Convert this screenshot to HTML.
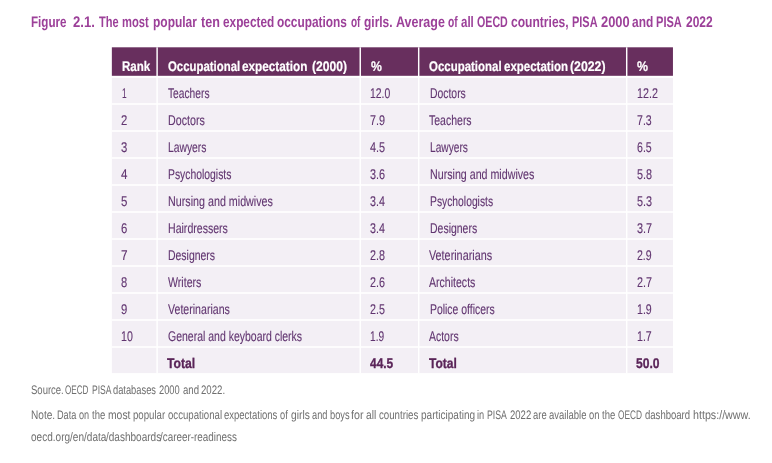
<!DOCTYPE html>
<html lang="en"><head><meta charset="utf-8"><title>Figure 2.1</title>
<style>html,body{margin:0;padding:0;background:#fff}body{width:772px;height:463px;position:relative;overflow:hidden;font-family:'Liberation Sans', sans-serif}.t{position:absolute;white-space:pre;transform-origin:0 0;display:block;text-rendering:geometricPrecision}svg{position:absolute;left:0;top:0}.g{margin:0;padding:0;font:inherit;position:static}</style></head><body>
<svg width="772" height="463" viewBox="0 0 772 463">
<rect x="111.85" y="47.3" width="561.10" height="28.50" fill="#682f5e"/>
<rect x="111.85" y="77.85" width="561.10" height="295.25" fill="#f3eff5"/>
<rect x="111.85" y="103.20" width="561.10" height="1.6" fill="#fff"/>
<rect x="111.85" y="130.20" width="561.10" height="1.6" fill="#fff"/>
<rect x="111.85" y="157.20" width="561.10" height="1.6" fill="#fff"/>
<rect x="111.85" y="184.20" width="561.10" height="1.6" fill="#fff"/>
<rect x="111.85" y="211.20" width="561.10" height="1.6" fill="#fff"/>
<rect x="111.85" y="238.20" width="561.10" height="1.6" fill="#fff"/>
<rect x="111.85" y="265.20" width="561.10" height="1.6" fill="#fff"/>
<rect x="111.85" y="292.20" width="561.10" height="1.6" fill="#fff"/>
<rect x="111.85" y="319.20" width="561.10" height="1.6" fill="#fff"/>
<rect x="111.85" y="346.20" width="561.10" height="1.6" fill="#fff"/>
<rect x="156.38" y="47.3" width="1.45" height="325.80" fill="#fff"/>
<rect x="359.52" y="47.3" width="1.45" height="325.80" fill="#fff"/>
<rect x="417.97" y="47.3" width="1.45" height="325.80" fill="#fff"/>
<rect x="625.98" y="47.3" width="1.45" height="325.80" fill="#fff"/>
</svg>
<h1 class="g">
<span class="t" style="left:31.23px;top:14.90px;font:bold 15.3px/15.3px 'Liberation Sans', sans-serif;color:#9c4099;transform:scaleX(0.7609);">Figure</span>
<span class="t" style="left:72.83px;top:14.90px;font:bold 15.3px/15.3px 'Liberation Sans', sans-serif;color:#9c4099;transform:scaleX(0.8554);">2.1.</span>
<span class="t" style="left:98.63px;top:14.90px;font:bold 15.3px/15.3px 'Liberation Sans', sans-serif;color:#9c4099;transform:scaleX(0.7219);">The</span>
<span class="t" style="left:122.19px;top:14.90px;font:bold 15.3px/15.3px 'Liberation Sans', sans-serif;color:#9c4099;transform:scaleX(0.7306);">most</span>
<span class="t" style="left:152.50px;top:14.90px;font:bold 15.3px/15.3px 'Liberation Sans', sans-serif;color:#9c4099;transform:scaleX(0.7826);">popular</span>
<span class="t" style="left:200.76px;top:14.90px;font:bold 15.3px/15.3px 'Liberation Sans', sans-serif;color:#9c4099;transform:scaleX(0.8231);">ten</span>
<span class="t" style="left:222.80px;top:14.90px;font:bold 15.3px/15.3px 'Liberation Sans', sans-serif;color:#9c4099;transform:scaleX(0.7723);">expected</span>
<span class="t" style="left:277.38px;top:14.90px;font:bold 15.3px/15.3px 'Liberation Sans', sans-serif;color:#9c4099;transform:scaleX(0.7761);">occupations</span>
<span class="t" style="left:351.25px;top:14.90px;font:bold 15.3px/15.3px 'Liberation Sans', sans-serif;color:#9c4099;transform:scaleX(0.6533);">of</span>
<span class="t" style="left:364.07px;top:14.90px;font:bold 15.3px/15.3px 'Liberation Sans', sans-serif;color:#9c4099;transform:scaleX(0.7824);">girls.</span>
<span class="t" style="left:395.70px;top:14.90px;font:bold 15.3px/15.3px 'Liberation Sans', sans-serif;color:#9c4099;transform:scaleX(0.8168);">Average</span>
<span class="t" style="left:447.85px;top:14.90px;font:bold 15.3px/15.3px 'Liberation Sans', sans-serif;color:#9c4099;transform:scaleX(0.6688);">of</span>
<span class="t" style="left:460.52px;top:14.90px;font:bold 15.3px/15.3px 'Liberation Sans', sans-serif;color:#9c4099;transform:scaleX(0.7533);">all</span>
<span class="t" style="left:476.66px;top:14.90px;font:bold 15.3px/15.3px 'Liberation Sans', sans-serif;color:#9c4099;transform:scaleX(0.6964);">OECD</span>
<span class="t" style="left:511.35px;top:14.90px;font:bold 15.3px/15.3px 'Liberation Sans', sans-serif;color:#9c4099;transform:scaleX(0.7888);">countries,</span>
<span class="t" style="left:572.13px;top:14.90px;font:bold 15.3px/15.3px 'Liberation Sans', sans-serif;color:#9c4099;transform:scaleX(0.7153);">PISA</span>
<span class="t" style="left:600.52px;top:14.90px;font:bold 15.3px/15.3px 'Liberation Sans', sans-serif;color:#9c4099;transform:scaleX(0.8420);">2000</span>
<span class="t" style="left:632.07px;top:14.90px;font:bold 15.3px/15.3px 'Liberation Sans', sans-serif;color:#9c4099;transform:scaleX(0.7790);">and</span>
<span class="t" style="left:656.48px;top:14.90px;font:bold 15.3px/15.3px 'Liberation Sans', sans-serif;color:#9c4099;transform:scaleX(0.7231);">PISA</span>
<span class="t" style="left:686.04px;top:14.90px;font:bold 15.3px/15.3px 'Liberation Sans', sans-serif;color:#9c4099;transform:scaleX(0.7841);">2022</span>
</h1>
<div class="g">
<span class="t" style="left:121.76px;top:59.80px;font:bold 13.9px/13.9px 'Liberation Sans', sans-serif;color:#ffffff;transform:scaleX(0.8307);-webkit-text-stroke:0.2px currentColor;">Rank</span>
<span class="t" style="left:167.57px;top:59.80px;font:bold 13.9px/13.9px 'Liberation Sans', sans-serif;color:#ffffff;transform:scaleX(0.8198);-webkit-text-stroke:0.2px currentColor;">Occupational</span>
<span class="t" style="left:241.98px;top:59.80px;font:bold 13.9px/13.9px 'Liberation Sans', sans-serif;color:#ffffff;transform:scaleX(0.8469);-webkit-text-stroke:0.2px currentColor;">expectation</span>
<span class="t" style="left:311.89px;top:59.80px;font:bold 13.9px/13.9px 'Liberation Sans', sans-serif;color:#ffffff;transform:scaleX(0.8725);-webkit-text-stroke:0.2px currentColor;">(2000)</span>
<span class="t" style="left:370.62px;top:59.80px;font:bold 13.9px/13.9px 'Liberation Sans', sans-serif;color:#ffffff;transform:scaleX(0.8814);-webkit-text-stroke:0.2px currentColor;">%</span>
<span class="t" style="left:428.97px;top:59.80px;font:bold 13.9px/13.9px 'Liberation Sans', sans-serif;color:#ffffff;transform:scaleX(0.8252);-webkit-text-stroke:0.2px currentColor;">Occupational</span>
<span class="t" style="left:503.69px;top:59.80px;font:bold 13.9px/13.9px 'Liberation Sans', sans-serif;color:#ffffff;transform:scaleX(0.8283);-webkit-text-stroke:0.2px currentColor;">expectation</span>
<span class="t" style="left:570.18px;top:59.80px;font:bold 13.9px/13.9px 'Liberation Sans', sans-serif;color:#ffffff;transform:scaleX(0.8854);-webkit-text-stroke:0.2px currentColor;">(2022)</span>
<span class="t" style="left:637.12px;top:59.80px;font:bold 13.9px/13.9px 'Liberation Sans', sans-serif;color:#ffffff;transform:scaleX(0.8917);-webkit-text-stroke:0.2px currentColor;">%</span>
<span class="t" style="left:122.21px;top:85.70px;font:normal 14.1px/14.1px 'Liberation Sans', sans-serif;color:#613570;transform:scaleX(0.5924);-webkit-text-stroke:0.12px currentColor;">1</span>
<span class="t" style="left:168.19px;top:85.70px;font:normal 14.1px/14.1px 'Liberation Sans', sans-serif;color:#613570;transform:scaleX(0.7258);-webkit-text-stroke:0.12px currentColor;">Teachers</span>
<span class="t" style="left:370.48px;top:85.70px;font:normal 14.1px/14.1px 'Liberation Sans', sans-serif;color:#613570;transform:scaleX(0.7398);-webkit-text-stroke:0.12px currentColor;">12.0</span>
<span class="t" style="left:429.62px;top:85.70px;font:normal 14.1px/14.1px 'Liberation Sans', sans-serif;color:#613570;transform:scaleX(0.7373);-webkit-text-stroke:0.12px currentColor;">Doctors</span>
<span class="t" style="left:636.96px;top:85.70px;font:normal 14.1px/14.1px 'Liberation Sans', sans-serif;color:#613570;transform:scaleX(0.7628);-webkit-text-stroke:0.12px currentColor;">12.2</span>
<span class="t" style="left:121.38px;top:112.70px;font:normal 14.1px/14.1px 'Liberation Sans', sans-serif;color:#613570;transform:scaleX(0.8016);-webkit-text-stroke:0.12px currentColor;">2</span>
<span class="t" style="left:167.60px;top:112.70px;font:normal 14.1px/14.1px 'Liberation Sans', sans-serif;color:#613570;transform:scaleX(0.7581);-webkit-text-stroke:0.12px currentColor;">Doctors</span>
<span class="t" style="left:370.18px;top:112.70px;font:normal 14.1px/14.1px 'Liberation Sans', sans-serif;color:#613570;transform:scaleX(0.7689);-webkit-text-stroke:0.12px currentColor;">7.9</span>
<span class="t" style="left:428.59px;top:112.70px;font:normal 14.1px/14.1px 'Liberation Sans', sans-serif;color:#613570;transform:scaleX(0.7454);-webkit-text-stroke:0.12px currentColor;">Teachers</span>
<span class="t" style="left:636.68px;top:112.70px;font:normal 14.1px/14.1px 'Liberation Sans', sans-serif;color:#613570;transform:scaleX(0.7505);-webkit-text-stroke:0.12px currentColor;">7.3</span>
<span class="t" style="left:121.34px;top:139.70px;font:normal 14.1px/14.1px 'Liberation Sans', sans-serif;color:#613570;transform:scaleX(0.8040);-webkit-text-stroke:0.12px currentColor;">3</span>
<span class="t" style="left:167.63px;top:139.70px;font:normal 14.1px/14.1px 'Liberation Sans', sans-serif;color:#613570;transform:scaleX(0.7330);-webkit-text-stroke:0.12px currentColor;">Lawyers</span>
<span class="t" style="left:370.46px;top:139.70px;font:normal 14.1px/14.1px 'Liberation Sans', sans-serif;color:#613570;transform:scaleX(0.7733);-webkit-text-stroke:0.12px currentColor;">4.5</span>
<span class="t" style="left:429.65px;top:139.70px;font:normal 14.1px/14.1px 'Liberation Sans', sans-serif;color:#613570;transform:scaleX(0.7227);-webkit-text-stroke:0.12px currentColor;">Lawyers</span>
<span class="t" style="left:636.78px;top:139.70px;font:normal 14.1px/14.1px 'Liberation Sans', sans-serif;color:#613570;transform:scaleX(0.7516);-webkit-text-stroke:0.12px currentColor;">6.5</span>
<span class="t" style="left:121.14px;top:166.70px;font:normal 14.1px/14.1px 'Liberation Sans', sans-serif;color:#613570;transform:scaleX(0.8218);-webkit-text-stroke:0.12px currentColor;">4</span>
<span class="t" style="left:167.63px;top:166.70px;font:normal 14.1px/14.1px 'Liberation Sans', sans-serif;color:#613570;transform:scaleX(0.7362);-webkit-text-stroke:0.12px currentColor;">Psychologists</span>
<span class="t" style="left:370.25px;top:166.70px;font:normal 14.1px/14.1px 'Liberation Sans', sans-serif;color:#613570;transform:scaleX(0.7696);-webkit-text-stroke:0.12px currentColor;">3.6</span>
<span class="t" style="left:429.60px;top:166.70px;font:normal 14.1px/14.1px 'Liberation Sans', sans-serif;color:#613570;transform:scaleX(0.7569);-webkit-text-stroke:0.12px currentColor;">Nursing and midwives</span>
<span class="t" style="left:636.69px;top:166.70px;font:normal 14.1px/14.1px 'Liberation Sans', sans-serif;color:#613570;transform:scaleX(0.7690);-webkit-text-stroke:0.12px currentColor;">5.8</span>
<span class="t" style="left:121.26px;top:193.70px;font:normal 14.1px/14.1px 'Liberation Sans', sans-serif;color:#613570;transform:scaleX(0.8163);-webkit-text-stroke:0.12px currentColor;">5</span>
<span class="t" style="left:167.60px;top:193.70px;font:normal 14.1px/14.1px 'Liberation Sans', sans-serif;color:#613570;transform:scaleX(0.7612);-webkit-text-stroke:0.12px currentColor;">Nursing and midwives</span>
<span class="t" style="left:370.26px;top:193.70px;font:normal 14.1px/14.1px 'Liberation Sans', sans-serif;color:#613570;transform:scaleX(0.7610);-webkit-text-stroke:0.12px currentColor;">3.4</span>
<span class="t" style="left:429.63px;top:193.70px;font:normal 14.1px/14.1px 'Liberation Sans', sans-serif;color:#613570;transform:scaleX(0.7323);-webkit-text-stroke:0.12px currentColor;">Psychologists</span>
<span class="t" style="left:636.69px;top:193.70px;font:normal 14.1px/14.1px 'Liberation Sans', sans-serif;color:#613570;transform:scaleX(0.7688);-webkit-text-stroke:0.12px currentColor;">5.3</span>
<span class="t" style="left:121.35px;top:220.70px;font:normal 14.1px/14.1px 'Liberation Sans', sans-serif;color:#613570;transform:scaleX(0.8039);-webkit-text-stroke:0.12px currentColor;">6</span>
<span class="t" style="left:167.61px;top:220.70px;font:normal 14.1px/14.1px 'Liberation Sans', sans-serif;color:#613570;transform:scaleX(0.7498);-webkit-text-stroke:0.12px currentColor;">Hairdressers</span>
<span class="t" style="left:370.26px;top:220.70px;font:normal 14.1px/14.1px 'Liberation Sans', sans-serif;color:#613570;transform:scaleX(0.7610);-webkit-text-stroke:0.12px currentColor;">3.4</span>
<span class="t" style="left:429.62px;top:220.70px;font:normal 14.1px/14.1px 'Liberation Sans', sans-serif;color:#613570;transform:scaleX(0.7432);-webkit-text-stroke:0.12px currentColor;">Designers</span>
<span class="t" style="left:636.75px;top:220.70px;font:normal 14.1px/14.1px 'Liberation Sans', sans-serif;color:#613570;transform:scaleX(0.7723);-webkit-text-stroke:0.12px currentColor;">3.7</span>
<span class="t" style="left:121.25px;top:247.70px;font:normal 14.1px/14.1px 'Liberation Sans', sans-serif;color:#613570;transform:scaleX(0.8432);-webkit-text-stroke:0.12px currentColor;">7</span>
<span class="t" style="left:167.62px;top:247.70px;font:normal 14.1px/14.1px 'Liberation Sans', sans-serif;color:#613570;transform:scaleX(0.7419);-webkit-text-stroke:0.12px currentColor;">Designers</span>
<span class="t" style="left:370.30px;top:247.70px;font:normal 14.1px/14.1px 'Liberation Sans', sans-serif;color:#613570;transform:scaleX(0.7644);-webkit-text-stroke:0.12px currentColor;">2.8</span>
<span class="t" style="left:428.65px;top:247.70px;font:normal 14.1px/14.1px 'Liberation Sans', sans-serif;color:#613570;transform:scaleX(0.7665);-webkit-text-stroke:0.12px currentColor;">Veterinarians</span>
<span class="t" style="left:636.81px;top:247.70px;font:normal 14.1px/14.1px 'Liberation Sans', sans-serif;color:#613570;transform:scaleX(0.7490);-webkit-text-stroke:0.12px currentColor;">2.9</span>
<span class="t" style="left:121.41px;top:274.70px;font:normal 14.1px/14.1px 'Liberation Sans', sans-serif;color:#613570;transform:scaleX(0.7932);-webkit-text-stroke:0.12px currentColor;">8</span>
<span class="t" style="left:168.29px;top:274.70px;font:normal 14.1px/14.1px 'Liberation Sans', sans-serif;color:#613570;transform:scaleX(0.7529);-webkit-text-stroke:0.12px currentColor;">Writers</span>
<span class="t" style="left:370.30px;top:274.70px;font:normal 14.1px/14.1px 'Liberation Sans', sans-serif;color:#613570;transform:scaleX(0.7646);-webkit-text-stroke:0.12px currentColor;">2.6</span>
<span class="t" style="left:428.83px;top:274.70px;font:normal 14.1px/14.1px 'Liberation Sans', sans-serif;color:#613570;transform:scaleX(0.7490);-webkit-text-stroke:0.12px currentColor;">Architects</span>
<span class="t" style="left:636.80px;top:274.70px;font:normal 14.1px/14.1px 'Liberation Sans', sans-serif;color:#613570;transform:scaleX(0.7661);-webkit-text-stroke:0.12px currentColor;">2.7</span>
<span class="t" style="left:121.39px;top:301.70px;font:normal 14.1px/14.1px 'Liberation Sans', sans-serif;color:#613570;transform:scaleX(0.8014);-webkit-text-stroke:0.12px currentColor;">9</span>
<span class="t" style="left:168.25px;top:301.70px;font:normal 14.1px/14.1px 'Liberation Sans', sans-serif;color:#613570;transform:scaleX(0.7524);-webkit-text-stroke:0.12px currentColor;">Veterinarians</span>
<span class="t" style="left:370.29px;top:301.70px;font:normal 14.1px/14.1px 'Liberation Sans', sans-serif;color:#613570;transform:scaleX(0.7621);-webkit-text-stroke:0.12px currentColor;">2.5</span>
<span class="t" style="left:429.62px;top:301.70px;font:normal 14.1px/14.1px 'Liberation Sans', sans-serif;color:#613570;transform:scaleX(0.7391);-webkit-text-stroke:0.12px currentColor;">Police officers</span>
<span class="t" style="left:636.97px;top:301.70px;font:normal 14.1px/14.1px 'Liberation Sans', sans-serif;color:#613570;transform:scaleX(0.7534);-webkit-text-stroke:0.12px currentColor;">1.9</span>
<span class="t" style="left:121.47px;top:328.70px;font:normal 14.1px/14.1px 'Liberation Sans', sans-serif;color:#613570;transform:scaleX(0.7525);-webkit-text-stroke:0.12px currentColor;">10</span>
<span class="t" style="left:167.89px;top:328.70px;font:normal 14.1px/14.1px 'Liberation Sans', sans-serif;color:#613570;transform:scaleX(0.7442);-webkit-text-stroke:0.12px currentColor;">General and keyboard clerks</span>
<span class="t" style="left:370.49px;top:328.70px;font:normal 14.1px/14.1px 'Liberation Sans', sans-serif;color:#613570;transform:scaleX(0.7192);-webkit-text-stroke:0.12px currentColor;">1.9</span>
<span class="t" style="left:428.84px;top:328.70px;font:normal 14.1px/14.1px 'Liberation Sans', sans-serif;color:#613570;transform:scaleX(0.7413);-webkit-text-stroke:0.12px currentColor;">Actors</span>
<span class="t" style="left:636.97px;top:328.70px;font:normal 14.1px/14.1px 'Liberation Sans', sans-serif;color:#613570;transform:scaleX(0.7525);-webkit-text-stroke:0.12px currentColor;">1.7</span>
<span class="t" style="left:167.41px;top:355.70px;font:bold 14.1px/14.1px 'Liberation Sans', sans-serif;color:#5a2458;transform:scaleX(0.8644);-webkit-text-stroke:0.3px currentColor;">Total</span>
<span class="t" style="left:370.15px;top:355.70px;font:bold 14.1px/14.1px 'Liberation Sans', sans-serif;color:#5a2458;transform:scaleX(0.8455);-webkit-text-stroke:0.3px currentColor;">44.5</span>
<span class="t" style="left:428.81px;top:355.70px;font:bold 14.1px/14.1px 'Liberation Sans', sans-serif;color:#5a2458;transform:scaleX(0.8557);-webkit-text-stroke:0.3px currentColor;">Total</span>
<span class="t" style="left:636.45px;top:355.70px;font:bold 14.1px/14.1px 'Liberation Sans', sans-serif;color:#5a2458;transform:scaleX(0.8578);-webkit-text-stroke:0.3px currentColor;">50.0</span>
</div>
<p class="g">
<span class="t" style="left:30.71px;top:384.00px;font:normal 12.4px/12.4px 'Liberation Sans', sans-serif;color:#6f6f6f;transform:scaleX(0.7671);">Source.</span>
<span class="t" style="left:65.46px;top:384.00px;font:normal 12.4px/12.4px 'Liberation Sans', sans-serif;color:#6f6f6f;transform:scaleX(0.6558);">OECD</span>
<span class="t" style="left:91.60px;top:384.00px;font:normal 12.4px/12.4px 'Liberation Sans', sans-serif;color:#6f6f6f;transform:scaleX(0.6914);">PISA</span>
<span class="t" style="left:113.48px;top:384.00px;font:normal 12.4px/12.4px 'Liberation Sans', sans-serif;color:#6f6f6f;transform:scaleX(0.7514);">databases</span>
<span class="t" style="left:159.21px;top:384.00px;font:normal 12.4px/12.4px 'Liberation Sans', sans-serif;color:#6f6f6f;transform:scaleX(0.7524);">2000</span>
<span class="t" style="left:182.74px;top:384.00px;font:normal 12.4px/12.4px 'Liberation Sans', sans-serif;color:#6f6f6f;transform:scaleX(0.7755);">and</span>
<span class="t" style="left:201.09px;top:384.00px;font:normal 12.4px/12.4px 'Liberation Sans', sans-serif;color:#6f6f6f;transform:scaleX(0.7774);">2022.</span>
<span class="t" style="left:30.68px;top:408.50px;font:normal 12.4px/12.4px 'Liberation Sans', sans-serif;color:#6f6f6f;transform:scaleX(0.8134);">Note.</span>
<span class="t" style="left:56.75px;top:408.50px;font:normal 12.4px/12.4px 'Liberation Sans', sans-serif;color:#6f6f6f;transform:scaleX(0.7373);">Data</span>
<span class="t" style="left:79.05px;top:408.50px;font:normal 12.4px/12.4px 'Liberation Sans', sans-serif;color:#6f6f6f;transform:scaleX(0.7366);">on</span>
<span class="t" style="left:91.82px;top:408.50px;font:normal 12.4px/12.4px 'Liberation Sans', sans-serif;color:#6f6f6f;transform:scaleX(0.7652);">the</span>
<span class="t" style="left:107.63px;top:408.50px;font:normal 12.4px/12.4px 'Liberation Sans', sans-serif;color:#6f6f6f;transform:scaleX(0.8354);">most</span>
<span class="t" style="left:132.95px;top:408.50px;font:normal 12.4px/12.4px 'Liberation Sans', sans-serif;color:#6f6f6f;transform:scaleX(0.7792);">popular</span>
<span class="t" style="left:167.69px;top:408.50px;font:normal 12.4px/12.4px 'Liberation Sans', sans-serif;color:#6f6f6f;transform:scaleX(0.7763);">occupational</span>
<span class="t" style="left:224.18px;top:408.50px;font:normal 12.4px/12.4px 'Liberation Sans', sans-serif;color:#6f6f6f;transform:scaleX(0.7671);">expectations</span>
<span class="t" style="left:280.44px;top:408.50px;font:normal 12.4px/12.4px 'Liberation Sans', sans-serif;color:#6f6f6f;transform:scaleX(0.7475);">of</span>
<span class="t" style="left:290.65px;top:408.50px;font:normal 12.4px/12.4px 'Liberation Sans', sans-serif;color:#6f6f6f;transform:scaleX(0.8294);">girls</span>
<span class="t" style="left:311.66px;top:408.50px;font:normal 12.4px/12.4px 'Liberation Sans', sans-serif;color:#6f6f6f;transform:scaleX(0.7445);">and</span>
<span class="t" style="left:329.51px;top:408.50px;font:normal 12.4px/12.4px 'Liberation Sans', sans-serif;color:#6f6f6f;transform:scaleX(0.7521);">boys</span>
<span class="t" style="left:351.47px;top:408.50px;font:normal 12.4px/12.4px 'Liberation Sans', sans-serif;color:#6f6f6f;transform:scaleX(0.8600);">for</span>
<span class="t" style="left:366.28px;top:408.50px;font:normal 12.4px/12.4px 'Liberation Sans', sans-serif;color:#6f6f6f;transform:scaleX(0.8212);">all</span>
<span class="t" style="left:379.01px;top:408.50px;font:normal 12.4px/12.4px 'Liberation Sans', sans-serif;color:#6f6f6f;transform:scaleX(0.7809);">countries</span>
<span class="t" style="left:420.81px;top:408.50px;font:normal 12.4px/12.4px 'Liberation Sans', sans-serif;color:#6f6f6f;transform:scaleX(0.8099);">participating</span>
<span class="t" style="left:476.98px;top:408.50px;font:normal 12.4px/12.4px 'Liberation Sans', sans-serif;color:#6f6f6f;transform:scaleX(0.7449);">in</span>
<span class="t" style="left:487.02px;top:408.50px;font:normal 12.4px/12.4px 'Liberation Sans', sans-serif;color:#6f6f6f;transform:scaleX(0.7041);">PISA</span>
<span class="t" style="left:509.55px;top:408.50px;font:normal 12.4px/12.4px 'Liberation Sans', sans-serif;color:#6f6f6f;transform:scaleX(0.7687);">2022</span>
<span class="t" style="left:533.09px;top:408.50px;font:normal 12.4px/12.4px 'Liberation Sans', sans-serif;color:#6f6f6f;transform:scaleX(0.7602);">are</span>
<span class="t" style="left:548.61px;top:408.50px;font:normal 12.4px/12.4px 'Liberation Sans', sans-serif;color:#6f6f6f;transform:scaleX(0.7655);">available</span>
<span class="t" style="left:588.72px;top:408.50px;font:normal 12.4px/12.4px 'Liberation Sans', sans-serif;color:#6f6f6f;transform:scaleX(0.7599);">on</span>
<span class="t" style="left:601.72px;top:408.50px;font:normal 12.4px/12.4px 'Liberation Sans', sans-serif;color:#6f6f6f;transform:scaleX(0.7652);">the</span>
<span class="t" style="left:618.25px;top:408.50px;font:normal 12.4px/12.4px 'Liberation Sans', sans-serif;color:#6f6f6f;transform:scaleX(0.6709);">OECD</span>
<span class="t" style="left:645.33px;top:408.50px;font:normal 12.4px/12.4px 'Liberation Sans', sans-serif;color:#6f6f6f;transform:scaleX(0.7703);">dashboard</span>
<span class="t" style="left:692.92px;top:408.50px;font:normal 12.4px/12.4px 'Liberation Sans', sans-serif;color:#6f6f6f;transform:scaleX(0.8633);">https://www.</span>
<span class="t" style="left:30.75px;top:430.60px;font:normal 12.4px/12.4px 'Liberation Sans', sans-serif;color:#6f6f6f;transform:scaleX(0.8100);">oecd.org/en/data</span>
<span class="t" style="left:105.59px;top:430.60px;font:normal 12.4px/12.4px 'Liberation Sans', sans-serif;color:#6f6f6f;transform:scaleX(0.8094);">/dashboards</span>
<span class="t" style="left:159.94px;top:430.60px;font:normal 12.4px/12.4px 'Liberation Sans', sans-serif;color:#6f6f6f;transform:scaleX(0.7972);">/career-readiness</span>
</p>
</body></html>
